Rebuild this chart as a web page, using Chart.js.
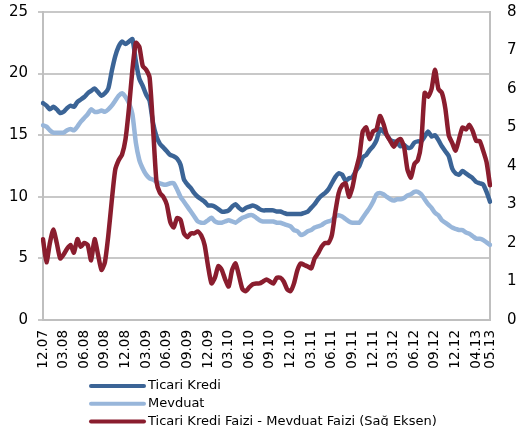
<!DOCTYPE html>
<html>
<head>
    <meta charset="utf-8">
    <title>Ticari Kredi ve Mevduat Faizleri</title>
    <script src="https://cdn.jsdelivr.net/npm/chart.js"></script>
    <style>
        body { margin: 0; background: white; }
        canvas { display: block; }
    </style>
</head>
<body>
    <canvas id="rateChart" width="520" height="426"></canvas>
    <script>
        // half-month observations, 12.07 .. 05.13
        const ticariKredi = [
            17.6, 17.4, 17.1, 17.3, 17.1, 16.8, 16.9, 17.2, 17.4, 17.3,
            17.7, 17.9, 18.1, 18.4, 18.6, 18.8, 18.5, 18.2, 18.4, 18.8,
            20.2, 21.4, 22.2, 22.6, 22.4, 22.6, 22.8, 21.0, 19.6, 19.0,
            18.3, 17.8, 16.0, 14.9, 14.3, 14.0, 13.7, 13.4, 13.3, 13.1,
            12.6, 11.4, 11.0, 10.7, 10.3, 10.0, 9.8, 9.6, 9.3, 9.3,
            9.2, 9.0, 8.8, 8.8, 8.9, 9.2, 9.4, 9.1, 8.9, 9.1,
            9.2, 9.3, 9.2, 9.0, 8.9, 8.9, 8.9, 8.9, 8.8, 8.8,
            8.7, 8.6, 8.6, 8.6, 8.6, 8.6, 8.7, 8.8, 9.1, 9.4,
            9.8, 10.1, 10.3, 10.6, 11.1, 11.6, 11.9, 11.8, 11.3, 11.5,
            11.6, 12.1, 12.5, 13.2, 13.4, 13.8, 14.1, 14.6, 15.5, 15.3,
            15.0, 14.6, 14.5, 14.4, 14.1, 14.2, 14.0, 14.0, 14.4, 14.5,
            14.5, 14.9, 15.3, 14.9, 15.0, 14.6, 14.1, 13.7, 13.3, 12.3,
            11.9, 11.8, 12.1, 11.9, 11.7, 11.5, 11.2, 11.1, 11.0, 10.4,
            9.6
        ];
        const mevduat = [
            15.8, 15.7, 15.4, 15.2, 15.2, 15.2, 15.2, 15.4, 15.5, 15.4,
            15.7, 16.1, 16.4, 16.7, 17.1, 16.9, 16.9, 17.0, 16.9, 17.1,
            17.4, 17.8, 18.2, 18.4, 18.1, 17.6, 16.7, 14.4, 13.0, 12.3,
            11.8, 11.5, 11.4, 11.2, 11.1, 11.0, 11.0, 11.1, 11.1, 10.6,
            10.0, 9.6, 9.2, 8.8, 8.4, 8.0, 7.9, 7.9, 8.1, 8.3,
            8.0, 7.9, 7.9, 8.0, 8.1, 8.0, 7.9, 8.1, 8.3, 8.4,
            8.5, 8.5, 8.3, 8.1, 8.0, 8.0, 8.0, 8.0, 7.9, 7.9,
            7.8, 7.7, 7.6, 7.3, 7.2, 6.9, 7.0, 7.2, 7.3, 7.5,
            7.6, 7.7, 7.9, 8.0, 8.1, 8.4, 8.5, 8.4, 8.2, 8.0,
            7.9, 7.9, 7.9, 8.3, 8.7, 9.1, 9.6, 10.2, 10.3, 10.2,
            10.0, 9.8, 9.7, 9.8, 9.8, 9.9, 10.1, 10.2, 10.4, 10.4,
            10.2, 9.8, 9.4, 9.1, 8.7, 8.5, 8.1, 7.9, 7.7, 7.5,
            7.4, 7.3, 7.3, 7.1, 7.0, 6.8, 6.6, 6.6, 6.5, 6.3,
            6.1
        ];
        // right axis
        const faizFarki = [
            2.1, 1.5, 2.0, 2.35, 2.0, 1.6, 1.7, 1.85, 1.95, 1.75,
            2.1, 1.9, 2.0, 1.95, 1.55, 2.1, 1.7, 1.3, 1.5, 2.2,
            3.1, 3.9, 4.15, 4.3, 4.7, 5.5, 6.5, 7.2, 7.1, 6.6,
            6.5, 6.3, 5.0, 3.6, 3.3, 3.2, 3.0, 2.55, 2.4, 2.65,
            2.6, 2.25, 2.15, 2.25, 2.25, 2.3, 2.2, 1.95, 1.4, 0.95,
            1.1, 1.4, 1.3, 1.05, 0.87, 1.3, 1.47, 1.15, 0.8, 0.75,
            0.85, 0.93, 0.95, 0.95, 1.0, 1.05, 1.0, 0.95, 1.1, 1.1,
            1.0, 0.8, 0.75, 0.95, 1.3, 1.47, 1.43, 1.39, 1.34, 1.6,
            1.73, 1.9, 2.0, 2.0, 2.2, 2.8, 3.3, 3.5, 3.55, 3.2,
            3.45, 3.9, 4.25, 4.9, 5.0, 4.7, 4.9, 4.95, 5.3, 5.1,
            4.8, 4.65, 4.5, 4.65, 4.7, 4.5, 3.9, 3.7, 4.05, 4.15,
            4.6, 5.9, 5.8, 6.0, 6.5, 6.0, 5.9, 5.5, 4.8, 4.6,
            4.4, 4.7, 5.0, 4.95, 5.07, 4.9, 4.65, 4.65, 4.4, 4.1,
            3.5
        ];
        const tickLabels = ['12.07', '03.08', '06.08', '09.08', '12.08', '03.09', '06.09', '09.09',
            '12.09', '03.10', '06.10', '09.10', '12.10', '03.11', '06.11', '09.11', '12.11',
            '03.12', '06.12', '09.12', '12.12', '04.13', '05.13'];
        const tickIndex = [0, 6, 12, 18, 24, 30, 36, 42, 48, 54, 60, 66, 72, 78, 84, 90, 96,
            102, 108, 114, 120, 126, 130];

        // category labels: month.year + half of month
        const periods = [];
        for (let i = 0; i < ticariKredi.length; i++) {
            const m = 11 + Math.floor(i / 2);
            const month = (m % 12) + 1;
            const year = 7 + Math.floor(m / 12);
            periods.push(String(month).padStart(2, '0') + '.' + String(year).padStart(2, '0') + (i % 2 ? 'b' : 'a'));
        }
        const tickMap = {};
        tickIndex.forEach((idx, k) => { tickMap[idx] = tickLabels[k]; });

        // legend as a single column under the axis
        const stackedLegend = {
            id: 'stackedLegend',
            afterDraw(chart) {
                const ctx = chart.ctx;
                chart.data.datasets.forEach((ds, k) => {
                    const y = 386 + k * 17.7;
                    ctx.save();
                    ctx.strokeStyle = ds.borderColor;
                    ctx.lineWidth = 4;
                    ctx.lineCap = 'round';
                    ctx.beginPath();
                    ctx.moveTo(91, y);
                    ctx.lineTo(144, y);
                    ctx.stroke();
                    ctx.fillStyle = '#000';
                    ctx.font = '13px "DejaVu Sans"';
                    ctx.textBaseline = 'middle';
                    ctx.fillText(ds.label, 148, y);
                    ctx.restore();
                });
            }
        };

        // keep the plot area edges where the original has them
        const noLabelOverhang = scale => {
            scale.paddingTop = 0;
            scale.paddingBottom = 0;
        };

        Chart.defaults.font.family = '"DejaVu Sans", Verdana, sans-serif';
        Chart.defaults.color = '#000';

        const ctx = document.getElementById('rateChart').getContext('2d');
        new Chart(ctx, {
            type: 'line',
            data: {
                labels: periods,
                datasets: [
                    {
                        label: 'Ticari Kredi',
                        data: ticariKredi,
                        borderColor: '#3b6496',
                        yAxisID: 'y',
                        order: 2
                    },
                    {
                        label: 'Mevduat',
                        data: mevduat,
                        borderColor: '#98b6da',
                        yAxisID: 'y',
                        order: 3
                    },
                    {
                        label: 'Ticari Kredi Faizi - Mevduat Faizi (Sağ Eksen)',
                        data: faizFarki,
                        borderColor: '#8a1d2e',
                        yAxisID: 'y1',
                        order: 1
                    }
                ]
            },
            options: {
                responsive: false,
                animation: false,
                layout: { padding: { top: 12, bottom: 56, left: 0, right: 0 } },
                elements: {
                    point: { radius: 0 },
                    line: { borderWidth: 4.5, tension: 0.2, borderJoinStyle: 'round', borderCapStyle: 'round' }
                },
                plugins: {
                    legend: { display: false },
                    tooltip: { enabled: false }
                },
                scales: {
                    x: {
                        grid: { display: false, drawTicks: false },
                        border: { color: '#bfbfbf', width: 2 },
                        ticks: {
                            autoSkip: false,
                            minRotation: 90,
                            maxRotation: 90,
                            padding: 10,
                            font: { size: 13.5 },
                            callback: (value, index) => tickMap[index] ?? null
                        },
                        afterFit: scale => { scale.height = 50; }
                    },
                    y: {
                        position: 'left',
                        min: 0,
                        max: 25,
                        ticks: { stepSize: 5, padding: 10, font: { size: 15 } },
                        grid: { color: '#c8c8c8', lineWidth: 2, tickLength: 5 },
                        border: { color: '#bfbfbf', width: 2 },
                        afterFit: scale => { scale.width = 43; noLabelOverhang(scale); }
                    },
                    y1: {
                        position: 'right',
                        min: 0,
                        max: 8,
                        ticks: { stepSize: 1, padding: 17, font: { size: 15 } },
                        grid: { display: false, drawTicks: false },
                        border: { color: '#bfbfbf', width: 2 },
                        afterFit: scale => { scale.width = 30; noLabelOverhang(scale); }
                    }
                }
            },
            plugins: [stackedLegend]
        });
    </script>
</body>
</html>
